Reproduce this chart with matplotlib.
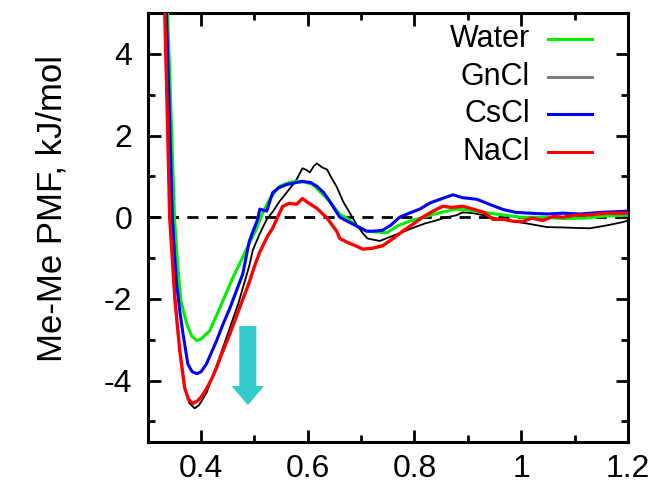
import numpy as np
import matplotlib.pyplot as plt
from matplotlib.patches import FancyArrow
from matplotlib.ticker import MultipleLocator

plt.rcParams['font.family'] = ['Liberation Sans', 'DejaVu Sans']
plt.rcParams['axes.unicode_minus'] = False

# Me-Me PMF curves (r in nm, PMF in kJ/mol)
water_x = [0.336, 0.343, 0.350, 0.355, 0.362, 0.373, 0.382, 0.392, 0.400, 0.416, 0.435, 0.459,
           0.486, 0.504, 0.515, 0.529, 0.547, 0.565, 0.579, 0.595, 0.610, 0.625, 0.641, 0.660,
           0.673, 0.690, 0.710, 0.730, 0.748, 0.770, 0.790, 0.816, 0.850, 0.879, 0.910, 0.940,
           0.970, 1.000, 1.040, 1.078, 1.120, 1.160, 1.200]
water_y = [5.4, 2.8, 0.0, -1.0, -2.05, -2.61, -2.9, -3.02, -2.98, -2.78, -2.22, -1.49,
           -0.76, -0.27, 0.1, 0.46, 0.76, 0.85, 0.88, 0.86, 0.8, 0.6, 0.39, 0.07,
           -0.02, -0.2, -0.34, -0.36, -0.38, -0.2, -0.1, 0.0, 0.12, 0.2, 0.16, 0.1,
           0.05, 0.0, 0.0, -0.03, -0.02, 0.03, 0.05]

gncl_x = [0.332, 0.337, 0.342, 0.346, 0.352, 0.360, 0.370, 0.378, 0.388, 0.396, 0.410, 0.430,
          0.450, 0.470, 0.490, 0.497, 0.510, 0.523, 0.535, 0.547, 0.560, 0.572, 0.580, 0.590,
          0.597, 0.604, 0.611, 0.617, 0.627, 0.636, 0.645, 0.654, 0.666, 0.679, 0.691, 0.703,
          0.712, 0.735, 0.760, 0.780, 0.797, 0.820, 0.840, 0.860, 0.879, 0.890, 0.910, 0.930,
          0.960, 0.984, 1.010, 1.048, 1.080, 1.100, 1.129, 1.160, 1.190, 1.200]
gncl_y = [5.4, 2.8, 0.0, -0.9, -2.1, -3.3, -4.2, -4.55, -4.68, -4.6, -4.3, -3.6,
          -2.85, -2.1, -1.2, -0.8, -0.4, -0.05, 0.15, 0.39, 0.6, 0.8, 0.95, 1.2,
          1.16, 1.1, 1.25, 1.32, 1.22, 1.17, 0.95, 0.75, 0.39, 0.1, -0.17, -0.39,
          -0.52, -0.58, -0.45, -0.35, -0.26, -0.15, -0.08, 0.0, 0.05, 0.12, 0.1, 0.05,
          -0.05, -0.1, -0.15, -0.24, -0.25, -0.26, -0.27, -0.2, -0.12, -0.08]

cscl_x = [0.334, 0.340, 0.346, 0.350, 0.354, 0.360, 0.366, 0.375, 0.383, 0.392, 0.400, 0.410,
          0.429, 0.440, 0.454, 0.478, 0.490, 0.500, 0.506, 0.510, 0.523, 0.534, 0.545, 0.560,
          0.575, 0.590, 0.605, 0.617, 0.630, 0.641, 0.660, 0.685, 0.710, 0.722, 0.740, 0.755,
          0.772, 0.790, 0.810, 0.829, 0.850, 0.872, 0.890, 0.917, 0.940, 0.966, 0.990, 1.016,
          1.050, 1.078, 1.110, 1.150, 1.200]
cscl_y = [5.4, 2.8, 0.0, -0.9, -1.63, -2.3, -2.85, -3.59, -3.78, -3.83, -3.78, -3.59,
          -3.02, -2.65, -2.22, -1.39, -0.6, -0.25, -0.05, 0.2, 0.15, 0.6, 0.72, 0.8,
          0.84, 0.88, 0.85, 0.76, 0.6, 0.39, 0.0, -0.17, -0.34, -0.34, -0.32, -0.2,
          0.0, 0.1, 0.2, 0.35, 0.45, 0.55, 0.48, 0.44, 0.32, 0.19, 0.12, 0.1,
          0.08, 0.1, 0.08, 0.12, 0.15]

nacl_x = [0.331, 0.336, 0.341, 0.345, 0.351, 0.360, 0.369, 0.376, 0.384, 0.393, 0.400, 0.410,
          0.420, 0.429, 0.440, 0.454, 0.472, 0.490, 0.500, 0.510, 0.525, 0.534, 0.545, 0.553,
          0.565, 0.579, 0.590, 0.600, 0.617, 0.636, 0.654, 0.660, 0.675, 0.690, 0.703, 0.720,
          0.740, 0.760, 0.780, 0.797, 0.815, 0.835, 0.853, 0.870, 0.890, 0.910, 0.930, 0.947,
          0.970, 0.985, 1.003, 1.020, 1.040, 1.060, 1.078, 1.100, 1.130, 1.160, 1.200]
nacl_y = [5.4, 2.8, 0.0, -0.83, -2.05, -3.27, -4.17, -4.45, -4.56, -4.5, -4.4, -4.2,
          -3.95, -3.68, -3.3, -2.85, -2.22, -1.6, -1.2, -0.85, -0.45, -0.27, 0.05, 0.27,
          0.34, 0.32, 0.46, 0.36, 0.22, -0.02, -0.34, -0.52, -0.62, -0.7, -0.78, -0.76,
          -0.7, -0.52, -0.32, -0.17, 0.0, 0.15, 0.27, 0.24, 0.27, 0.2, 0.12, -0.05,
          -0.05, -0.1, -0.1, -0.02, -0.08, 0.02, 0.0, 0.05, 0.06, 0.1, 0.1]

labels = ['Water', 'GnCl', 'CsCl', 'NaCl']
legend_colors = ['#00ee00', '#808080', '#0000ff', '#ff0000']

fig = plt.figure(figsize=(6.54, 4.84), dpi=100)
ax = fig.add_axes([0.226, 0.087, 0.734, 0.886])

ax.axhline(0, color='black', lw=2, ls=(0, (4, 3)), zorder=1)

ax.plot(gncl_x, gncl_y, color='black', lw=1.3, zorder=2)
ax.plot(water_x, water_y, color='#00ee00', lw=2.2, zorder=3)
ax.plot(cscl_x, cscl_y, color='#0000ff', lw=2.2, zorder=4)
ax.plot(nacl_x, nacl_y, color='#ff0000', lw=2.4, zorder=5)

# cyan arrow pointing down toward the deeper minima
ax.add_patch(FancyArrow(0.4875, -2.66, 0, -1.94, width=0.032, head_width=0.061,
                        head_length=0.47, length_includes_head=True,
                        color='#33cccc', lw=0, zorder=6))

# legend drawn by hand: right aligned text, line to the right
rows = [0.939, 0.851, 0.765, 0.676]
for lab, col, ry in zip(labels, legend_colors, rows):
    ax.text(0.796, ry, lab, transform=ax.transAxes, ha='right', va='center', fontsize=22)
    ax.plot([0.833, 0.925], [ry, ry], transform=ax.transAxes, color=col, lw=2.2)

ax.set_xlim(0.3, 1.2)
ax.set_ylim(-5.5, 5)
ax.set_xticks([0.4, 0.6, 0.8, 1.0, 1.2])
ax.set_xticklabels(['0.4', '0.6', '0.8', '1', '1.2'])
ax.set_yticks([-4, -2, 0, 2, 4])
ax.xaxis.set_minor_locator(MultipleLocator(0.1))
ax.yaxis.set_minor_locator(MultipleLocator(1))
ax.tick_params(which='both', direction='in', top=True, right=True, width=2, labelsize=23)
ax.tick_params(which='major', length=9)
ax.tick_params(which='minor', length=5)
ax.tick_params(axis='x', pad=9)
ax.tick_params(axis='y', pad=11)
for s in ax.spines.values():
    s.set_linewidth(2.2)

ax.set_ylabel('Me-Me PMF, kJ/mol', fontsize=25)
ax.yaxis.set_label_coords(-0.165, 0.545)

fig.savefig('out.png', dpi=100)
